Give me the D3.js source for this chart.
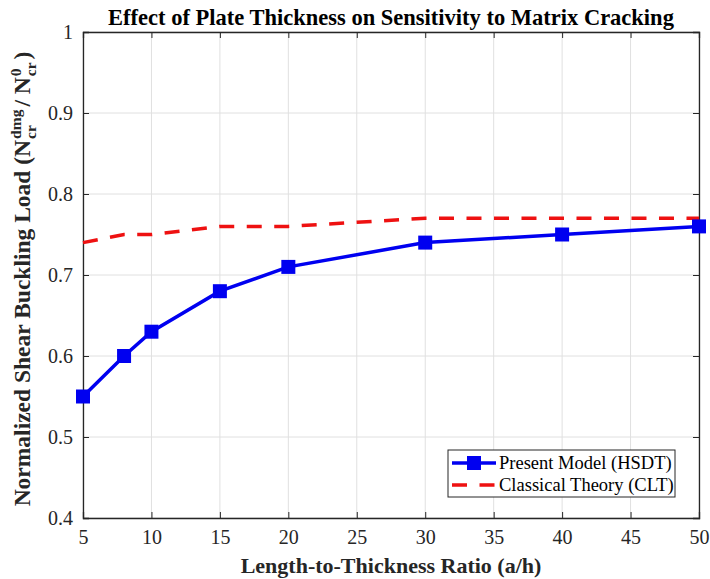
<!DOCTYPE html>
<html><head><meta charset="utf-8">
<script src="https://cdn.jsdelivr.net/npm/d3@7"></script>
<style>body{margin:0;background:#fff}svg{display:block}</style>
</head><body><svg id="c" width="710" height="579"></svg>
<script>
const ratios = [5, 8, 10, 15, 20, 30, 40, 50];
const hsdt = [0.55, 0.60, 0.63, 0.68, 0.71, 0.74, 0.75, 0.76];
const clt = [0.74, 0.75, 0.75, 0.76, 0.76, 0.77, 0.77, 0.77];
const xTicks = [5, 10, 15, 20, 25, 30, 35, 40, 45, 50];
const yTicks = [0.4, 0.5, 0.6, 0.7, 0.8, 0.9, 1];
const seriesNames = ["Present Model (HSDT)", "Classical Theory (CLT)"];

const svg = d3.select("#c");
const m = {l: 83, r: 699, t: 32, b: 518};
const x = d3.scaleLinear().domain([5, 50]).range([m.l, m.r]);
const y = d3.scaleLinear().domain([0.4, 1]).range([m.b, m.t]);
const font = "Liberation Serif, Times New Roman, serif";
const blue = "#0000f0", red = "#ee1111", dash = "15,12.5";

// grid
const g = svg.append("g");
g.selectAll(".gx").data(xTicks).join("line")
  .attr("x1", d => x(d)).attr("x2", d => x(d)).attr("y1", m.t).attr("y2", m.b)
  .attr("stroke", "#e0e0e0").attr("stroke-width", 1);
g.selectAll(".gy").data(yTicks).join("line")
  .attr("y1", d => y(d)).attr("y2", d => y(d)).attr("x1", m.l).attr("x2", m.r)
  .attr("stroke", "#e0e0e0").attr("stroke-width", 1);

// axes
const xb = svg.append("g").attr("transform", `translate(0,${m.b})`)
  .call(d3.axisBottom(x).tickValues(xTicks).tickSize(-6).tickPadding(12).tickFormat(d3.format("d")));
const xt = svg.append("g").attr("transform", `translate(0,${m.t})`)
  .call(d3.axisTop(x).tickValues(xTicks).tickSize(-6).tickFormat(""));
const yl = svg.append("g").attr("transform", `translate(${m.l},0)`)
  .call(d3.axisLeft(y).tickValues(yTicks).tickSize(-6).tickPadding(10).tickFormat(d => d === 1 ? "1" : d3.format(".1f")(d)));
const yr = svg.append("g").attr("transform", `translate(${m.r},0)`)
  .call(d3.axisRight(y).tickValues(yTicks).tickSize(-6).tickFormat(""));
[xb, xt, yl, yr].forEach(a => {
  a.attr("font-family", font).attr("font-size", 20);
  a.select(".domain").attr("stroke", "#262626").attr("stroke-width", 1.3);
  a.selectAll(".tick line").attr("stroke", "#262626");
  a.selectAll("text").attr("font-family", font).attr("font-size", 20).attr("fill", "#262626");
});

// lines
const line = (vals) => d3.line().x((d, i) => x(ratios[i])).y(d => y(d))(vals);
svg.append("path").attr("d", line(clt)).attr("fill", "none")
  .attr("stroke", red).attr("stroke-width", 3.5).attr("stroke-dasharray", dash);
svg.append("path").attr("d", line(hsdt)).attr("fill", "none")
  .attr("stroke", blue).attr("stroke-width", 3.5);
const ms = 14;
svg.selectAll(".mk").data(hsdt).join("rect")
  .attr("x", (d, i) => x(ratios[i]) - ms / 2).attr("y", d => y(d) - ms / 2)
  .attr("width", ms).attr("height", ms).attr("fill", blue);

// title
svg.append("text").attr("x", (m.l + m.r) / 2).attr("y", 25).attr("text-anchor", "middle")
  .attr("font-family", font).attr("font-weight", "bold").attr("font-size", 22.5).attr("fill", "#000")
  .text("Effect of Plate Thickness on Sensitivity to Matrix Cracking");

// x label
svg.append("text").attr("x", (m.l + m.r) / 2).attr("y", 573).attr("text-anchor", "middle")
  .attr("font-family", font).attr("font-weight", "bold").attr("font-size", 22).attr("fill", "#262626")
  .text("Length-to-Thickness Ratio (a/h)");

// y label with stacked sub/superscripts
const yt = svg.append("text").attr("transform", `translate(30,${(m.t + m.b) / 2 + 4}) rotate(-90)`)
  .attr("text-anchor", "start").attr("font-family", font).attr("font-weight", "bold")
  .attr("font-size", 23.5).attr("fill", "#262626");
const ss = 15.5;
function stack(sup, sub) {
  const a = yt.append("tspan").attr("font-size", ss).attr("dx", 1).attr("dy", -9).text(sup);
  const la = a.node().getComputedTextLength();
  const b = yt.append("tspan").attr("font-size", ss).attr("dx", -la).attr("dy", 15).text(sub);
  const lb = b.node().getComputedTextLength();
  return {la, lb};
}
yt.append("tspan").text("Normalized Shear Buckling Load (N");
let s1 = stack("dmg", "cr");
yt.append("tspan").attr("dx", Math.max(0, s1.la - s1.lb) + 3).attr("dy", -6).text("/ N");
let s2 = stack("0", "cr");
yt.append("tspan").attr("dx", Math.max(0, s2.la - s2.lb) + 3).attr("dy", -6).text(")");
// center it
const bb = yt.node().getBBox();
yt.attr("transform", `translate(30,${(m.t + m.b) / 2 + bb.width / 2 + 4}) rotate(-90)`);

// legend
const lg = svg.append("g");
lg.append("rect").attr("x", 448).attr("y", 450).attr("width", 227).attr("height", 47)
  .attr("fill", "#fff").attr("stroke", "#262626").attr("stroke-width", 1);
const rows = [
  {n: seriesNames[0], c: blue, dash: null, mk: true},
  {n: seriesNames[1], c: red, dash: dash, mk: false}
];
rows.forEach((r, i) => {
  const cy = 463 + i * 22;
  lg.append("line").attr("x1", 452).attr("x2", 496).attr("y1", cy).attr("y2", cy)
    .attr("stroke", r.c).attr("stroke-width", 3.5).attr("stroke-dasharray", r.dash);
  if (r.mk) lg.append("rect").attr("x", 474 - ms / 2).attr("y", cy - ms / 2).attr("width", ms).attr("height", ms).attr("fill", r.c);
  lg.append("text").attr("x", 499).attr("y", cy + 6).attr("font-family", font).attr("font-size", 18.5)
    .attr("fill", "#000").text(r.n);
});
</script></body></html>
